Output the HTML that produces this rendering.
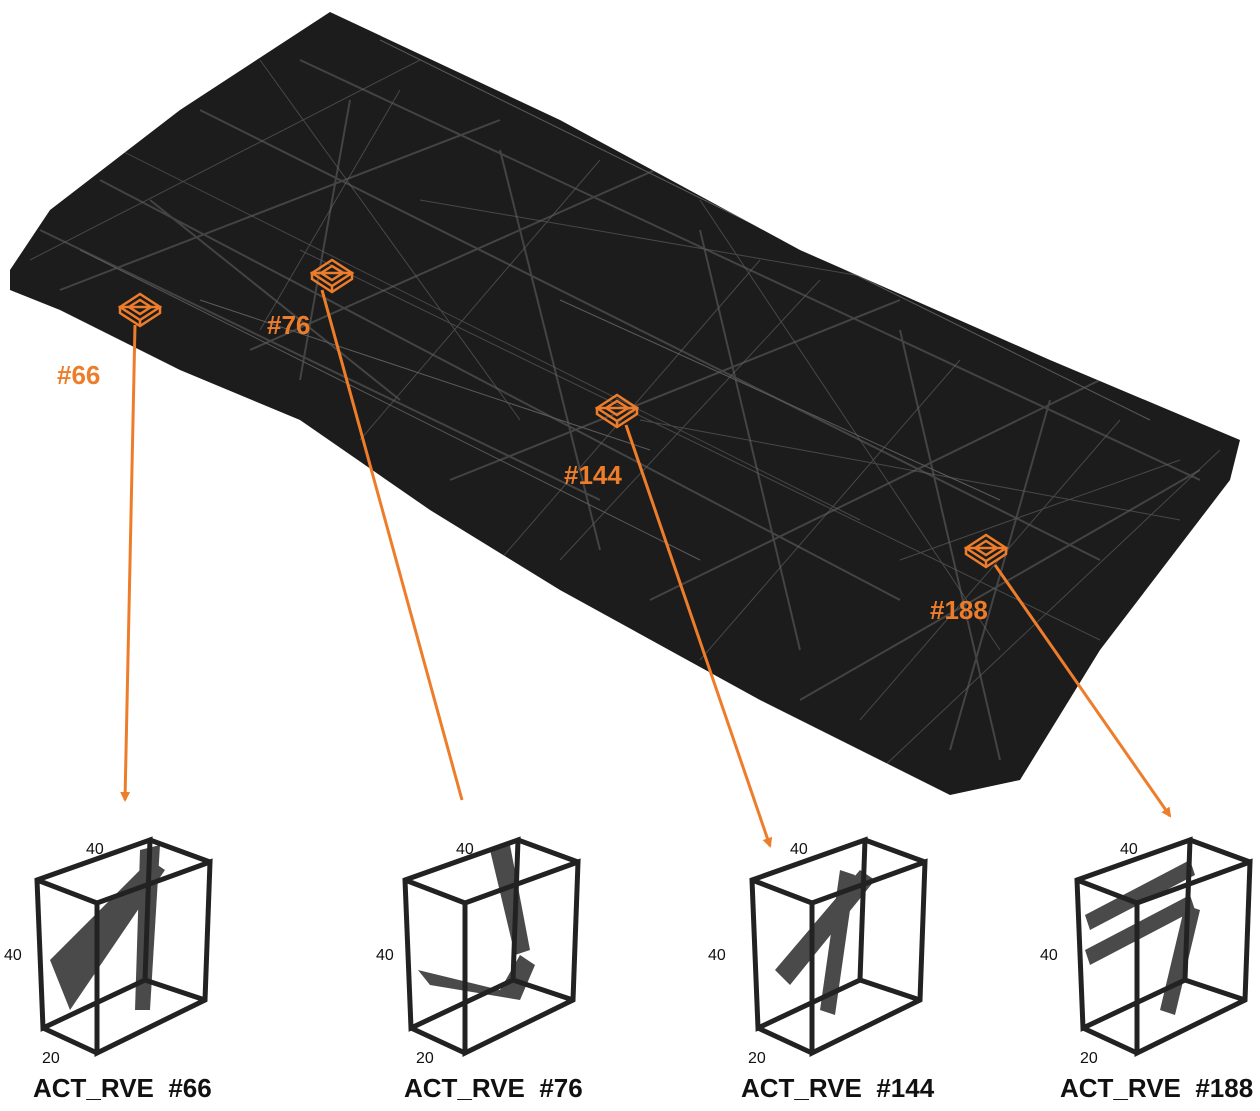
<!DOCTYPE html>
<html><head><style>
body{margin:0;background:#fff;width:1260px;height:1111px;overflow:hidden}
svg{display:block}
text{font-family:"Liberation Sans",sans-serif}
</style></head><body>
<svg width="1260" height="1111" viewBox="0 0 1260 1111" xmlns="http://www.w3.org/2000/svg">
<defs>
<marker id="ah" markerWidth="10" markerHeight="10" refX="8" refY="5" orient="auto" markerUnits="userSpaceOnUse"><path d="M0,0 L10,5 L0,10 z" fill="#ee7d2b"/></marker>
<clipPath id="slab"><polygon points="10,270 50,210 180,110 330,12 560,120 800,250 1050,360 1240,440 1230,480 1100,650 1020,780 950,795 760,700 560,590 430,510 300,420 180,370 60,310 10,290"/></clipPath>
<g id="box">
<polygon points="37,880 150,840 145,980 43,1028" fill="none" stroke="#222" stroke-width="5"/>
<polygon points="97,903 210,862 205,1000 97,1053" fill="none" stroke="#222" stroke-width="5"/>
<path d="M37,880 L97,903 M150,840 L210,862 M145,980 L205,1000 M43,1028 L97,1053" stroke="#222" stroke-width="5"/>
</g>
</defs>
<polygon points="10,270 50,210 180,110 330,12 560,120 800,250 1050,360 1240,440 1230,480 1100,650 1020,780 950,795 760,700 560,590 430,510 300,420 180,370 60,310 10,290" fill="#1c1c1c"/>
<g clip-path="url(#slab)">
<g stroke="#555" stroke-width="2" opacity="0.7">
<path d="M40,230 L600,500 M100,180 L900,600 M200,110 L1100,560 M300,60 L1200,480 M60,290 L500,120 M250,350 L700,150 M450,480 L900,300 M650,600 L1100,380 M800,700 L1200,470 M150,200 L400,400 M500,150 L600,550 M700,230 L800,650 M900,330 L1000,760 M350,100 L300,380 M1050,400 L950,750"/>
<path d="M80,250 L700,560 M380,40 L1150,420 M560,300 L1000,500 M200,300 L650,450" stroke="#777" stroke-width="1"/>
</g>
<g stroke="#666" stroke-width="1" opacity="0.6">
<path d="M30,260 L420,60 M120,150 L860,520 M260,60 L520,420 M400,90 L260,330 M600,160 L360,440 M700,200 L1000,650 M820,280 L560,560 M960,360 L700,660 M1120,420 L860,720 M1180,460 L900,560 M420,200 L1000,300 M300,250 L1100,640 M640,420 L1180,520 M500,560 L760,260 M880,770 L1220,450"/>
</g>
</g>
<g stroke="#ee7d2b" stroke-width="3" fill="none">
<line x1="135" y1="325" x2="125" y2="800" marker-end="url(#ah)"/>
<line x1="322" y1="290" x2="462" y2="800"/>
<line x1="626" y1="425" x2="770" y2="846" marker-end="url(#ah)"/>
<line x1="995" y1="565" x2="1170" y2="816" marker-end="url(#ah)"/>
</g>
<g stroke="#ee7d2b" stroke-width="2.5" fill="none">
<g transform="translate(140,307)"><polygon points="-20,0 0,-13 20,0 0,13"/><polygon points="-20,0 -20,6 0,19 20,6 20,0"/><line x1="0" y1="13" x2="0" y2="19"/><polygon points="-11,0 0,-7 11,0 0,7"/></g>
<g transform="translate(332,273)"><polygon points="-20,0 0,-13 20,0 0,13"/><polygon points="-20,0 -20,6 0,19 20,6 20,0"/><line x1="0" y1="13" x2="0" y2="19"/><polygon points="-11,0 0,-7 11,0 0,7"/></g>
<g transform="translate(617,408)"><polygon points="-20,0 0,-13 20,0 0,13"/><polygon points="-20,0 -20,6 0,19 20,6 20,0"/><line x1="0" y1="13" x2="0" y2="19"/><polygon points="-11,0 0,-7 11,0 0,7"/></g>
<g transform="translate(986,548)"><polygon points="-20,0 0,-13 20,0 0,13"/><polygon points="-20,0 -20,6 0,19 20,6 20,0"/><line x1="0" y1="13" x2="0" y2="19"/><polygon points="-11,0 0,-7 11,0 0,7"/></g>
</g>
<g fill="#ee7d2b" font-size="26" font-weight="bold">
<text x="57" y="384">#66</text>
<text x="267" y="334">#76</text>
<text x="564" y="484">#144</text>
<text x="930" y="619">#188</text>
</g>
<g fill="#4a4a4a">
<polygon points="50,960 150,860 165,870 70,1010"/>
<polygon points="140,850 160,845 150,1010 135,1010"/>
<polygon points="418,970 500,990 520,955 535,965 520,1000 430,985"/>
<polygon points="490,850 510,845 530,950 515,955"/>
<polygon points="775,970 860,870 875,880 790,985"/>
<polygon points="820,1010 840,870 855,875 835,1015"/>
<polygon points="1085,915 1190,860 1195,875 1090,930"/>
<polygon points="1085,950 1190,895 1195,910 1090,965"/>
<polygon points="1160,1010 1185,905 1200,910 1175,1015"/>
</g>
<use href="#box"/>
<use href="#box" transform="translate(368,0)"/>
<use href="#box" transform="translate(715,0)"/>
<use href="#box" transform="translate(1040,0)"/>
<g font-size="16" fill="#111">
<text x="86" y="854">40</text><text x="4" y="960">40</text><text x="42" y="1063">20</text>
<text x="456" y="854">40</text><text x="376" y="960">40</text><text x="416" y="1063">20</text>
<text x="790" y="854">40</text><text x="708" y="960">40</text><text x="748" y="1063">20</text>
<text x="1120" y="854">40</text><text x="1040" y="960">40</text><text x="1080" y="1063">20</text>
</g>
<g font-size="26" font-weight="bold" fill="#111">
<text x="33" y="1097">ACT_RVE&#160; #66</text>
<text x="404" y="1097">ACT_RVE&#160; #76</text>
<text x="741" y="1097">ACT_RVE&#160; #144</text>
<text x="1060" y="1097">ACT_RVE&#160; #188</text>
</g>
</svg>
</body></html>
